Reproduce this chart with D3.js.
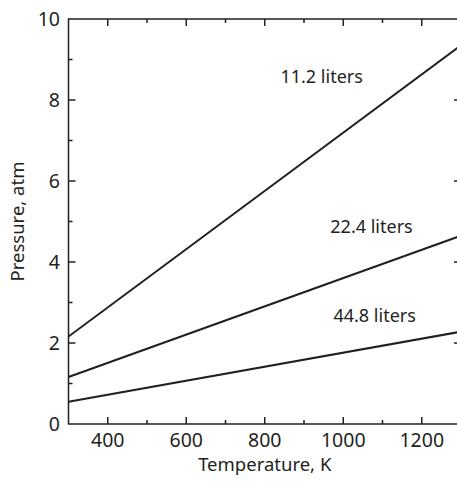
<!DOCTYPE html>
<html>
<head>
<meta charset="utf-8">
<script src="https://cdn.jsdelivr.net/npm/d3@7"></script>
<style>
body { margin: 0; background: #fff; }
svg text { font-family: "Noto Sans", sans-serif; fill: #231f20; }
</style>
</head>
<body>
<svg width="457" height="482"></svg>
<script>
// temperatures at which each line is read (K)
var temps = [300, 1300];
// pressure (atm) at those temperatures, per volume
var p112 = [2.16, 9.35];
var p224 = [1.16, 4.65];
var p448 = [0.55, 2.28];
var volumes = ["11.2 liters", "22.4 liters", "44.8 liters"];
// where each label sits, in data units [T, P]
var labelPos = [[945, 8.42], [1072, 4.72], [1080, 2.52]];

var xTicks = [400, 600, 800, 1000, 1200];
var yTicks = [0, 2, 4, 6, 8, 10];

var svg = d3.select("svg"),
    ink = "#231f20";

var x = d3.scaleLinear().domain([300, 1300]).range([68.5, 461]),
    y = d3.scaleLinear().domain([0, 10]).range([424, 19]);

var series = [p112, p224, p448];

// minor ticks at odd hundreds / odd units
var xMinor = d3.range(500, 1300, 200),
    yMinor = d3.range(1, 10, 2);

var g = svg.append("g");

// frame
g.append("rect")
  .attr("x", x(300)).attr("y", y(10))
  .attr("width", x(1300) - x(300)).attr("height", y(0) - y(10))
  .attr("fill", "none").attr("stroke", ink).attr("stroke-width", 1.5);

// inward ticks on all four sides
function ticks(vals, len) {
  vals.forEach(function(v) {
    g.append("line").attr("x1", x(v)).attr("x2", x(v)).attr("y1", y(0)).attr("y2", y(0) - len);
    g.append("line").attr("x1", x(v)).attr("x2", x(v)).attr("y1", y(10)).attr("y2", y(10) + len);
  });
}
function yticks(vals, len) {
  vals.forEach(function(v) {
    g.append("line").attr("y1", y(v)).attr("y2", y(v)).attr("x1", x(300)).attr("x2", x(300) + len);
    g.append("line").attr("y1", y(v)).attr("y2", y(v)).attr("x1", x(1300)).attr("x2", x(1300) - len);
  });
}
ticks(xTicks, 7);
ticks(xMinor, 4);
yticks(yTicks.slice(1, -1), 7);
yticks(yMinor, 4);
g.selectAll("line").attr("stroke", ink).attr("stroke-width", 1.5);

// tick labels
svg.append("g").selectAll("text").data(xTicks).enter().append("text")
  .attr("x", function(d) { return x(d); })
  .attr("y", 447)
  .attr("text-anchor", "middle")
  .attr("font-size", 19.5)
  .text(function(d) { return d; });

svg.append("g").selectAll("text").data(yTicks).enter().append("text")
  .attr("x", 60)
  .attr("y", function(d) { return y(d) + 7; })
  .attr("text-anchor", "end")
  .attr("font-size", 19.5)
  .text(function(d) { return d; });

// axis titles
svg.append("text")
  .attr("x", (x(300) + x(1300)) / 2).attr("y", 471)
  .attr("text-anchor", "middle").attr("font-size", 18.5)
  .text("Temperature, K");

svg.append("text")
  .attr("transform", "translate(24," + (y(0) + y(10)) / 2 + ") rotate(-90)")
  .attr("text-anchor", "middle").attr("font-size", 18.5)
  .text("Pressure, atm");

// lines
var line = d3.line()
  .x(function(d, i) { return x(temps[i]); })
  .y(function(d) { return y(d); });

svg.append("defs").append("clipPath").attr("id", "clip")
  .append("rect").attr("x", x(300)).attr("y", y(10))
  .attr("width", x(1300) - x(300)).attr("height", y(0) - y(10));

svg.append("g").attr("clip-path", "url(#clip)")
  .selectAll("path").data(series).enter().append("path")
  .attr("d", line)
  .attr("fill", "none").attr("stroke", ink).attr("stroke-width", 2);

svg.append("g").selectAll("text").data(volumes).enter().append("text")
  .attr("x", function(d, i) { return x(labelPos[i][0]); })
  .attr("y", function(d, i) { return y(labelPos[i][1]); })
  .attr("text-anchor", "middle")
  .attr("font-size", 18)
  .text(function(d) { return d; });
</script>
</body>
</html>
